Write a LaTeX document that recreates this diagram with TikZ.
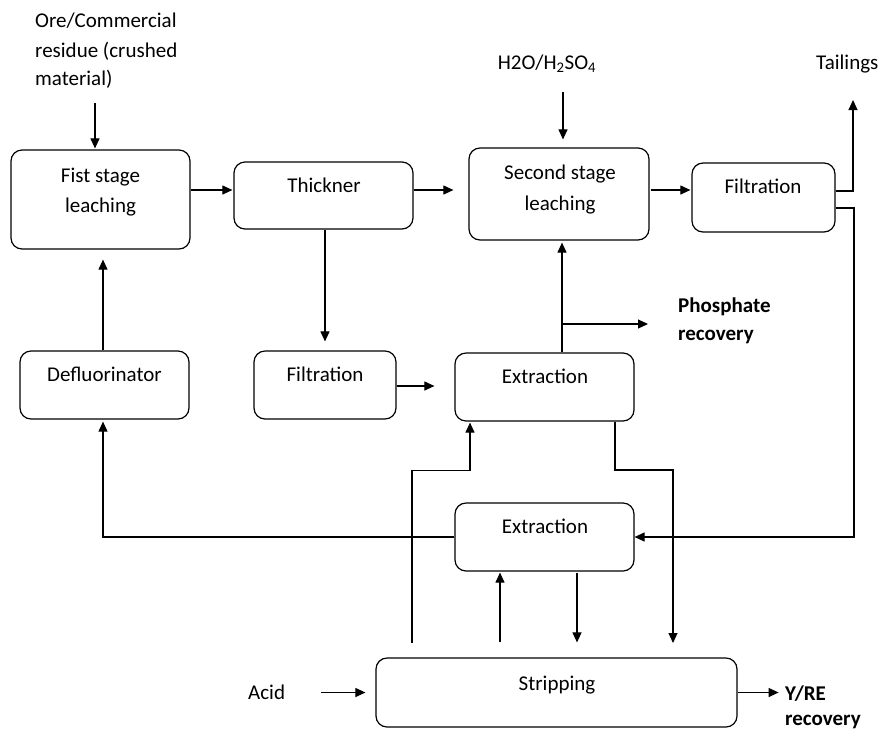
\documentclass[tikz,border=0pt]{standalone}
\usepackage{fontspec}
\setmainfont{Carlito}
\usetikzlibrary{arrows.meta,calc}
\begin{document}
\begin{tikzpicture}[x=1pt,y=-1pt,
  box/.style={draw, line width=1.2pt, rounded corners=11pt, inner sep=0pt},
  lbl/.style={font=\fontsize{21}{29}\selectfont, inner sep=0pt, anchor=base},
  bld/.style={font=\fontsize{21}{29}\selectfont\bfseries, inner sep=0pt, anchor=base west},
  arr/.style={line width=1.1pt, -{Triangle[length=10pt,width=9pt]}}]
\useasboundingbox (0,0) rectangle (880,732);

% boxes
\node[box, minimum width=179pt, minimum height=99pt] (fist)   at (100.5,199.5) {};
\node[box, minimum width=179pt, minimum height=67pt] (thick)  at (323.5,195.5) {};
\node[box, minimum width=180pt, minimum height=92pt] (second) at (559,194) {};
\node[box, minimum width=143pt, minimum height=69pt] (filt1)  at (763.5,197.5) {};
\node[box, minimum width=169pt, minimum height=68pt] (defl)   at (104.5,385) {};
\node[box, minimum width=142pt, minimum height=68pt] (filt2)  at (325,385) {};
\node[box, minimum width=179pt, minimum height=68pt] (ext1)   at (544.5,387) {};
\node[box, minimum width=179pt, minimum height=68pt] (ext2)   at (544.5,537) {};
\node[box, minimum width=361pt, minimum height=69pt] (strip)  at (556.5,692.5) {};

% box texts
\node[lbl] (fistA) at (100.5,182) {Fist stage};
\node[lbl] (fistB) at (100.5,212) {leaching};
\node[lbl] (thickT) at (324,192) {Thickner};
\node[lbl] (secA) at (560,179) {Second stage};
\node[lbl] (secB) at (560,210) {leaching};
\node[lbl] (filt1T) at (763,193) {Filtration};
\node[lbl] (deflT) at (104.5,381) {Defluorinator};
\node[lbl] (filt2T) at (325,381) {Filtration};
\node[lbl] (ext1T) at (545,383) {Extraction};
\node[lbl] (ext2T) at (545,533) {Extraction};
\node[lbl] (stripT) at (557,690) {Stripping};

% outside texts
\node[lbl, anchor=base west] (oreA) at (35,27) {Ore/Commercial};
\node[lbl, anchor=base west] (oreB) at (35,57) {residue (crushed};
\node[lbl, anchor=base west] (oreC) at (35,85) {material)};
\node[lbl] (h2o) at (547,69) {H2O/H\textsubscript{2}SO\textsubscript{4}};
\node[lbl, anchor=base west] (tail) at (816,69) {Tailings};
\node[bld] (phosA) at (678,312) {Phosphate};
\node[bld] (phosB) at (678,340) {recovery};
\node[lbl, anchor=base west] (acid) at (248,699) {Acid};
\node[bld] (yreA) at (785,700) {Y/RE};
\node[bld] (yreB) at (785,725) {recovery};

% connectors
\coordinate (oreS) at (95,103);
\draw[arr] (oreS) -- ($(oreS |- fist.north)+(0,-1)$);
\draw[arr] ($(fist.east)+(0,-9.5)$) -- ($(thick.west)+(-1,-5.5)$);
\draw[arr] ($(thick.east)+(0,-5.5)$) -- ($(second.west)+(-15,-4)$);
\draw[arr] ($(thick.south)+(1.5,0)$) -- ($(filt2.north)+(0,-9)$);
\draw[arr] ($(filt2.east)+(0,1)$) -- ($(ext1.west)+(-20,-1)$);
\coordinate (h2oS) at (563,92);
\draw[arr] (h2oS) -- ($(h2oS |- second.north)+(0,-8)$);
\draw[arr] ($(second.east)+(1,-4)$) -- ($(filt1.west)+(-1,-7.5)$);
\coordinate (tailE) at (853,100);
\draw[arr] ($(filt1.east)+(0,-6.5)$) -| (tailE);
\coordinate (rbend) at (854,537);
\draw[arr] ($(filt1.east)+(0,10.5)$) -| (rbend) -- (rbend -| ext2.east);
\draw[arr] ($(ext1.north)+(17.5,0)$) -- ($(second.south)+(3,2)$);
\coordinate (phB) at (562,324);
\coordinate (phE) at (648,324);
\draw[arr] (phB) -- (phE);
\draw[arr] (ext2.west) -| ($(defl.south)+(-1.5,2)$);
\draw[arr] ($(defl.north)+(-1.5,0)$) -- ($(fist.south)+(2.5,10)$);
\coordinate (s1) at (412,643);
\draw[arr] (s1) |- ($(ext1.south)+(-74.5,49)$) -- ($(ext1.south)+(-74.5,1)$);
\draw[arr] ($(strip.north)+(-56.5,-15)$) -- ($(ext2.south)+(-44.5,1)$);
\draw[arr] ($(ext2.south)+(32.5,1)$) -- ($(strip.north)+(20.5,-15)$);
\coordinate (p2) at (673,470);
\draw[arr] ($(ext1.south)+(70.5,0)$) |- (p2) -- (p2 |- s1);
\draw[arr] ($(strip.west)+(-54,0)$) -- ($(strip.west)+(-10,0)$);
\draw[arr] (strip.east) -- ($(strip.east)+(41,0)$);
\end{tikzpicture}
\end{document}
